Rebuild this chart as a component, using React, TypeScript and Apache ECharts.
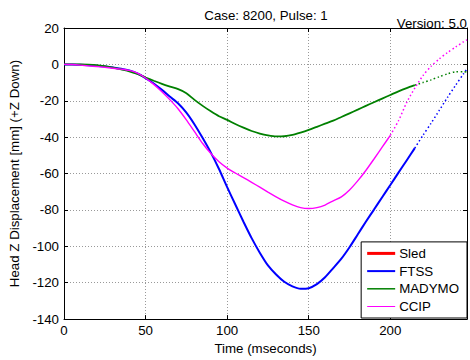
import React, { useEffect, useRef } from "react";
import * as echarts from "echarts";

// Time axis (ms) shared by every series
const time = [
  0, 5, 10, 15, 20, 25, 30, 35, 40, 45, 50, 55, 60, 65, 70, 75, 80, 85, 90, 95,
  100, 105, 110, 115, 120, 125, 130, 135, 140, 145, 150, 155, 160, 165, 170, 175,
  180, 185, 190, 195, 200, 205, 210, 215, 220, 225, 230, 235, 240, 245, 247,
];

// Head Z displacement [mm]
const ftss = [
  0, 0, -0.2, -0.5, -0.8, -1.2, -1.7, -2.4, -3.4, -5, -7.5, -10.5, -14, -17.8, -21.5, -26.5, -33, -40.5, -48.5, -57.5,
  -67.5, -77, -86.5, -95.5, -103.5, -110.5, -115.5, -119.5, -122, -123.3, -123, -120.8, -117, -112, -106.8, -100.5,
  -93.5, -86.5, -79.8, -73, -66.3, -59.5, -52.8, -46, -39, -32.3, -25.3, -18.2, -11.5, -5, -2.5,
];
const madymo = [
  0, 0, 0, -0.1, -0.4, -1, -1.8, -2.8, -3.8, -5.3, -7.2, -9, -10.7, -12.2, -13.6, -15.8, -19.5, -22.8, -25.8, -28.5,
  -30.5, -32.8, -34.8, -36.6, -38, -39, -39.6, -39.5, -38.8, -37.5, -36, -34.3, -32.6, -30.9, -28.9, -26.9,
  -24.9, -22.8, -20.8, -18.8, -16.8, -14.8, -13, -11.4, -10, -8.5, -6.8, -5.2, -4.1, -4, -4.2,
];
const ccip = [
  0, -0.1, -0.4, -0.8, -1.2, -1.6, -2.1, -2.6, -3.3, -4.8, -7.5, -11, -15, -19.5, -24.5, -30.5, -37, -43.5, -49, -53.5,
  -57, -59.7, -62.2, -64.8, -67.5, -70.2, -72.8, -75.2, -77.2, -78.7, -79.2, -78.7, -77.3, -75, -72.8, -69,
  -64, -58.3, -52, -45.5, -39, -31, -21, -13, -6.2, -1, 3, 6.5, 9.5, 12.5, 13.5,
];
const sled: number[] = [];

// Last time (ms) of the solid (measured) part of each trace; dotted afterwards
const ftssSolidEnd = 215;
const madymoSolidEnd = 215;
const ccipSolidEnd = 200;

const xTicks = [0, 50, 100, 150, 200];
const yTicks = [-140, -120, -100, -80, -60, -40, -20, 0, 20];

const FONT = "Arial, 'Liberation Sans', Helvetica, sans-serif";
const FS = 13.3;

function pairs(vals: number[], from: number, to: number) {
  const out: [number, number][] = [];
  time.forEach((t, i) => {
    if (t >= from && t <= to && i < vals.length) out.push([t, vals[i]]);
  });
  return out;
}

const bar = (h: number) => `path://M0,0H28V${h}H0Z`;

export default function App() {
  const ref = useRef<HTMLDivElement>(null);
  useEffect(() => {
    if (!ref.current) return;
    const chart = echarts.init(ref.current, undefined, { renderer: "svg" });
    const dotted = { type: [1.5, 2.5] as number[] };
    const tStart = time[0];
    const tEnd = time[time.length - 1];

    const mk = (name: string, color: string, width: number, vals: number[], end: number) => [
      {
        name,
        type: "line",
        data: pairs(vals, tStart, end),
        symbol: "none",
        smooth: 0.25,
        lineStyle: { color, width },
        itemStyle: { color },
        z: 3,
      },
      {
        name: name + " (ext)",
        type: "line",
        data: pairs(vals, end, tEnd),
        symbol: "none",
        smooth: 0.25,
        lineStyle: { color, width: 1.5, ...dotted },
        itemStyle: { color },
        z: 3,
      },
    ];

    const option: any = {
      animation: false,
      backgroundColor: "#fff",
      textStyle: { fontFamily: FONT },
      grid: { left: 64, right: 2, top: 28, bottom: 38, show: false },
      xAxis: [
        {
          type: "value",
          min: tStart,
          max: tEnd,
          interval: xTicks[1] - xTicks[0],
          name: "Time (mseconds)",
          nameLocation: "middle",
          nameGap: 17,
          nameTextStyle: { color: "#000", fontSize: FS, fontFamily: FONT, verticalAlign: "top" },
          axisLine: { show: true, onZero: false, lineStyle: { color: "#000", width: 1 } },
          axisTick: { show: true, inside: true, length: 4, lineStyle: { color: "#000" } },
          axisLabel: {
            color: "#000",
            fontSize: FS,
            fontFamily: FONT,
            margin: 5,
            formatter: (v: number) => (xTicks.includes(v) ? String(v) : ""),
          },
          splitLine: { show: true, lineStyle: { color: "#999", width: 1, type: [1, 2] } },
        },
        {
          type: "value",
          position: "top",
          min: tStart,
          max: tEnd,
          interval: xTicks[1] - xTicks[0],
          axisLine: { show: true, onZero: false, lineStyle: { color: "#000", width: 1 } },
          axisTick: { show: true, inside: true, length: 4, lineStyle: { color: "#000" } },
          axisLabel: { show: false },
          splitLine: { show: false },
        },
      ],
      yAxis: [
        {
          type: "value",
          min: yTicks[0],
          max: yTicks[yTicks.length - 1],
          interval: 20,
          name: "Head Z Displacement [mm] (+Z Down)",
          nameLocation: "middle",
          nameRotate: 90,
          nameGap: 31,
          nameTextStyle: { color: "#000", fontSize: FS, fontFamily: FONT },
          axisLine: { show: true, onZero: false, lineStyle: { color: "#000", width: 1 } },
          axisTick: { show: true, inside: true, length: 4, lineStyle: { color: "#000" } },
          axisLabel: { color: "#000", fontSize: FS, fontFamily: FONT, margin: 5 },
          splitLine: { show: true, lineStyle: { color: "#999", width: 1, type: [1, 2] } },
        },
        {
          type: "value",
          position: "right",
          min: yTicks[0],
          max: yTicks[yTicks.length - 1],
          interval: 20,
          axisLine: { show: true, onZero: false, lineStyle: { color: "#000", width: 1 } },
          axisTick: { show: true, inside: true, length: 4, lineStyle: { color: "#000" } },
          axisLabel: { show: false },
          splitLine: { show: false },
        },
      ],
      legend: {
        data: [
          { name: "Sled", icon: bar(3) },
          { name: "FTSS", icon: bar(2) },
          { name: "MADYMO", icon: bar(1.5) },
          { name: "CCIP", icon: bar(1) },
        ],
        orient: "vertical",
        right: 3,
        bottom: 42,
        backgroundColor: "#fff",
        borderColor: "#000",
        borderWidth: 1,
        padding: [5, 8, 5, 6],
        itemWidth: 28,
        itemHeight: 13,
        itemGap: 4.7,
        itemStyle: { borderWidth: 0 },
        textStyle: { color: "#000", fontSize: FS, fontFamily: FONT, padding: [0, 0, 0, -1] },
        selectedMode: false,
        z: 10,
      },
      series: [
        {
          name: "Sled",
          type: "line",
          data: sled,
          symbol: "none",
          lineStyle: { color: "#ff0000", width: 3 },
          itemStyle: { color: "#ff0000" },
        },
        ...mk("FTSS", "#0000ff", 2, ftss, ftssSolidEnd),
        ...mk("MADYMO", "#008000", 1.8, madymo, madymoSolidEnd),
        ...mk("CCIP", "#ff00ff", 1.4, ccip, ccipSolidEnd),
      ],
      graphic: [
        {
          type: "text",
          x: 266,
          y: 15,
          style: {
            text: "Case: 8200, Pulse: 1",
            fill: "#000",
            font: `${FS}px ${FONT}`,
            textAlign: "center",
            textVerticalAlign: "middle",
          },
        },
        {
          type: "text",
          x: 467,
          y: 23,
          style: {
            text: "Version: 5.0",
            fill: "#000",
            font: `${FS}px ${FONT}`,
            textAlign: "right",
            textVerticalAlign: "middle",
          },
        },
      ],
    };
    chart.setOption(option);
    return () => chart.dispose();
  }, []);
  return <div ref={ref} style={{ width: 470, height: 360, position: "absolute", left: 0, top: 0 }} />;
}
